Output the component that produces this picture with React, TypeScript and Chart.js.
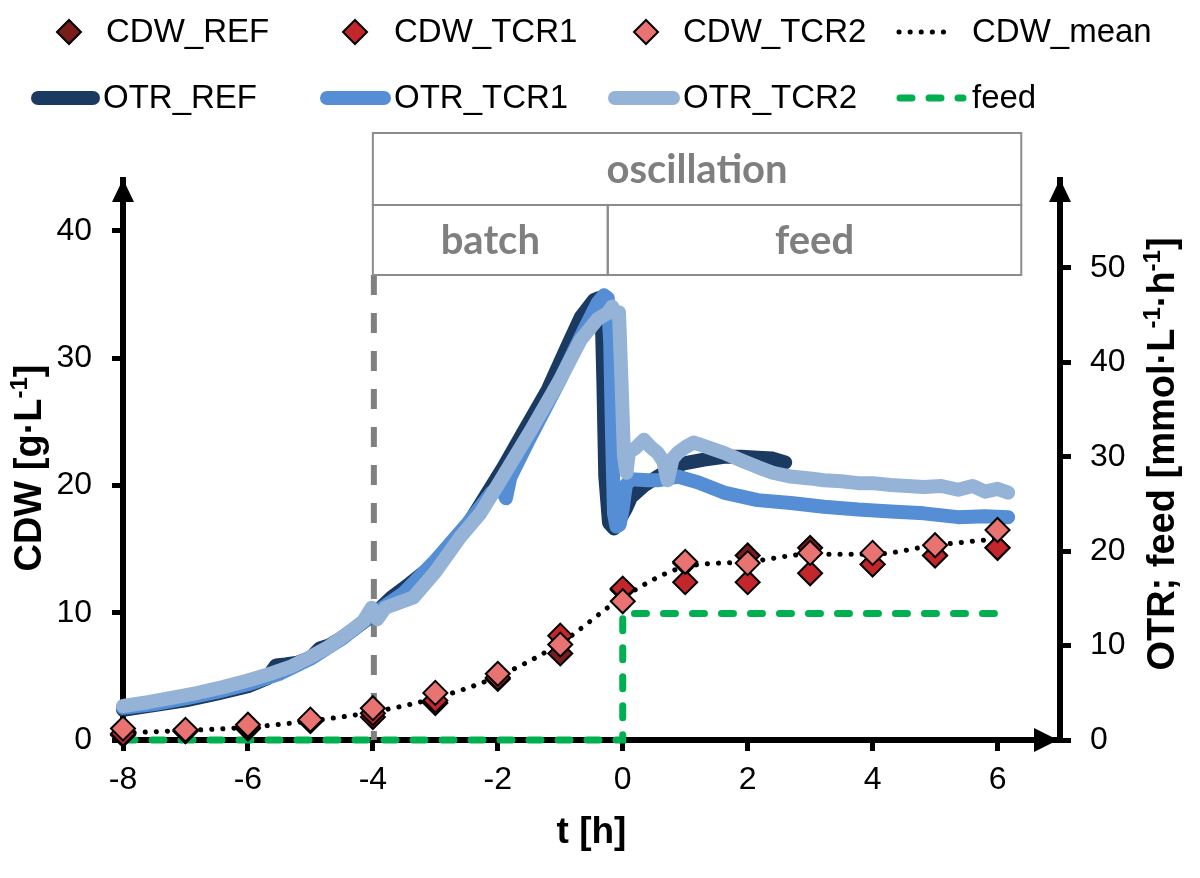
import { useEffect, useRef } from 'react';
import { Chart, registerables } from 'chart.js';

Chart.register(...registerables);

// ---------------- data ----------------
const cdwTimes = [-8, -7, -6, -5, -4, -3, -2, -1, 0, 1, 2, 3, 4, 5, 6];
const cdwRef = [0.4, 0.7, 0.9, 1.5, 1.8, 2.9, 4.8, 6.8, 11.8, 13.9, 14.5, 15.1, 13.8, 14.5, 15.1];
const cdwTcr1 = [0.5, 0.7, 1.0, 1.5, 2.1, 3.1, 4.9, 8.2, 11.9, 12.4, 12.4, 13.1, 13.8, 14.5, 15.1];
const cdwTcr2 = [0.9, 0.8, 1.2, 1.6, 2.5, 3.7, 5.2, 7.5, 10.9, 14.0, 13.9, 14.7, 14.7, 15.3, 16.5];
const cdwMean = [0.55, 0.75, 1.0, 1.5, 2.2, 3.3, 5.0, 7.6, 11.2, 13.6, 14.0, 14.6, 14.6, 15.3, 15.8];

const otrRefT = [-8.0, -7.5, -7.0, -6.5, -6.0, -5.7, -5.55, -5.4, -5.2, -5.0, -4.85, -4.7, -4.5, -4.25, -4.0, -3.7, -3.4, -3.1, -2.8, -2.5, -2.2, -1.9, -1.6, -1.2, -0.9, -0.67, -0.46, -0.38, -0.34, -0.31, -0.28, -0.22, -0.14, -0.06, 0.05, 0.13, 0.35, 0.56, 0.8, 0.98, 1.3, 1.62, 1.9, 2.16, 2.4, 2.6];
const otrRefV = [3.2, 3.7, 4.2, 4.9, 5.7, 6.5, 7.9, 8.0, 8.2, 8.7, 9.7, 10.0, 10.8, 12.0, 13.2, 15.1, 16.6, 18.2, 19.8, 22.6, 25.8, 29.0, 32.5, 37.1, 41.5, 44.8, 46.6, 46.8, 46.0, 38.0, 28.0, 23.0, 22.4, 23.2, 24.5, 25.7, 27.0, 27.9, 28.8, 29.3, 29.7, 30.0, 30.0, 29.9, 29.8, 29.4];

const otrTcr1T = [-8.0, -7.5, -7.0, -6.5, -6.0, -5.5, -5.0, -4.5, -4.0, -3.5, -3.0, -2.5, -2.1, -1.95, -1.87, -1.8, -1.5, -1.0, -0.6, -0.4, -0.3, -0.24, -0.2, -0.17, -0.14, -0.1, -0.05, 0.0, 0.05, 0.13, 0.4, 0.56, 0.88, 1.2, 1.62, 2.16, 2.69, 3.22, 3.77, 4.29, 4.82, 5.37, 5.8, 6.17];
const otrTcr1V = [3.4, 3.8, 4.4, 5.1, 5.9, 7.0, 8.6, 10.7, 13.3, 15.6, 19.0, 22.8, 26.2, 26.8, 25.6, 27.8, 31.8, 38.2, 43.7, 46.3, 47.1, 46.8, 42.0, 32.0, 24.0, 22.6, 22.8, 24.5, 27.0, 27.6, 27.5, 27.5, 27.9, 27.3, 26.2, 25.4, 25.1, 24.7, 24.4, 24.2, 24.0, 23.6, 23.7, 23.6];

const otrTcr2T = [-8.0, -7.6, -7.2, -6.8, -6.4, -6.0, -5.6, -5.3, -5.0, -4.7, -4.4, -4.15, -4.02, -3.93, -3.8, -3.35, -3.0, -2.6, -2.28, -2.0, -1.47, -1.0, -0.67, -0.4, -0.24, -0.17, -0.12, -0.06, -0.02, 0.02, 0.06, 0.1, 0.2, 0.34, 0.45, 0.56, 0.65, 0.72, 0.8, 0.88, 1.0, 1.14, 1.4, 1.62, 1.9, 2.16, 2.4, 2.69, 3.0, 3.22, 3.5, 3.77, 4.0, 4.29, 4.55, 4.82, 5.1, 5.37, 5.6, 5.8, 6.0, 6.17];
const otrTcr2V = [3.6, 4.0, 4.5, 5.0, 5.6, 6.3, 7.1, 7.8, 8.8, 9.9, 11.3, 12.6, 14.0, 12.8, 14.0, 15.1, 17.8, 21.5, 24.0, 27.0, 32.8, 38.2, 42.4, 44.6, 45.2, 45.9, 45.2, 45.3, 38.0, 30.0, 28.3, 30.5, 30.9, 31.8, 31.0, 30.4, 29.5, 27.5, 29.8, 30.4, 31.0, 31.5, 30.9, 30.4, 29.6, 28.9, 28.3, 27.9, 27.7, 27.5, 27.4, 27.2, 27.2, 27.0, 26.9, 26.8, 26.9, 26.5, 26.9, 26.3, 26.6, 26.2];

const feedT = [-8, 0, 0, 5.95];
const feedV = [0, 0, 13.4, 13.4];

const xRange = [-8, 7];
const cdwRange = [0, 44];
const otrRange = [0, 59.3];
const tickStepX = 2;
const tickStepY = 10;

// phase boxes (time boundaries)
const phaseOscStart = -4;
const phaseBatchEnd = -0.24;
const phaseOscEnd = 6.38;

// ---------------- style ----------------
const FONT = "'Liberation Sans', Arial, sans-serif";
const BOXFONT = "Lato, 'Open Sans', sans-serif";
const C = {
  cdwRef: '#7A1B1C',
  cdwTcr1: '#C3262B',
  cdwTcr2: '#E97371',
  otrRef: '#1B3A62',
  otrTcr1: '#558ED5',
  otrTcr2: '#95B3D7',
  feed: '#00B050',
  grey: '#808080',
};

const pts = (t: number[], v: number[]) => t.map((x, i) => ({ x, y: v[i] }));

type Part = { t: string; sup?: boolean };

function drawRich(ctx: CanvasRenderingContext2D, parts: Part[], cx: number, cy: number, size: number, rot: number) {
  const big = `bold ${size}px ${FONT}`;
  const small = `bold ${Math.round(size * 0.62)}px ${FONT}`;
  let total = 0;
  const widths = parts.map((p) => {
    ctx.font = p.sup ? small : big;
    const w = ctx.measureText(p.t).width;
    total += w;
    return w;
  });
  ctx.save();
  ctx.translate(cx, cy);
  ctx.rotate(rot);
  ctx.fillStyle = '#000';
  ctx.textBaseline = 'alphabetic';
  ctx.textAlign = 'left';
  let x = -total / 2;
  const base = size * 0.36;
  parts.forEach((p, i) => {
    ctx.font = p.sup ? small : big;
    ctx.fillText(p.t, x, p.sup ? base - size * 0.36 : base);
    x += widths[i];
  });
  ctx.restore();
}

function diamond(ctx: CanvasRenderingContext2D, x: number, y: number, r: number, fill: string) {
  ctx.beginPath();
  ctx.moveTo(x - r, y);
  ctx.lineTo(x, y - r);
  ctx.lineTo(x + r, y);
  ctx.lineTo(x, y + r);
  ctx.closePath();
  ctx.fillStyle = fill;
  ctx.fill();
  ctx.lineWidth = 2;
  ctx.strokeStyle = '#000';
  ctx.stroke();
}

const legendItems = [
  { label: 'CDW_REF', kind: 'marker', x0: 69, x1: 69, tx: 106, y: 32 },
  { label: 'CDW_TCR1', kind: 'marker', x0: 355, x1: 355, tx: 394, y: 32 },
  { label: 'CDW_TCR2', kind: 'marker', x0: 646, x1: 646, tx: 683, y: 32 },
  { label: 'CDW_mean', kind: 'line', x0: 899, x1: 947, tx: 972, y: 32 },
  { label: 'OTR_REF', kind: 'line', x0: 38, x1: 93, tx: 103, y: 98 },
  { label: 'OTR_TCR1', kind: 'line', x0: 327, x1: 384, tx: 394, y: 98 },
  { label: 'OTR_TCR2', kind: 'line', x0: 615, x1: 673, tx: 683, y: 98 },
  { label: 'feed', kind: 'line', x0: 900, x1: 963, tx: 972, y: 98 },
];

const decorPlugin = {
  id: 'decor',
  beforeDatasetsDraw(chart: any) {
    const { ctx, chartArea } = chart;
    const x = chart.scales.x;
    const px = x.getPixelForValue(phaseOscStart);
    ctx.save();
    ctx.strokeStyle = C.grey;
    ctx.lineWidth = 6;
    ctx.setLineDash([20, 18]);
    ctx.beginPath();
    ctx.moveTo(px + 1, 275);
    ctx.lineTo(px + 1, chartArea.bottom);
    ctx.stroke();
    ctx.restore();
  },
  afterDraw(chart: any) {
    const { ctx, chartArea } = chart;
    const x = chart.scales.x;
    ctx.save();
    // phase boxes
    const xa = x.getPixelForValue(phaseOscStart);
    const xb = x.getPixelForValue(phaseBatchEnd);
    const xc = x.getPixelForValue(phaseOscEnd);
    ctx.strokeStyle = '#8C8C8C';
    ctx.lineWidth = 2;
    ctx.fillStyle = '#fff';
    ctx.fillRect(xa, 133, xc - xa, 142);
    ctx.strokeRect(xa, 133, xc - xa, 72);
    ctx.strokeRect(xa, 205, xb - xa, 70);
    ctx.strokeRect(xb, 205, xc - xb, 70);
    ctx.fillStyle = '#7F7F7F';
    ctx.font = `bold 40px ${BOXFONT}`;
    ctx.textAlign = 'center';
    ctx.textBaseline = 'middle';
    ctx.fillText('oscillation', (xa + xc) / 2, 170);
    ctx.fillText('batch', (xa + xb) / 2, 241);
    ctx.fillText('feed', (xb + xc) / 2, 241);

    // arrows
    ctx.fillStyle = '#000';
    const L = chartArea.left, R = chartArea.right, T = chartArea.top, B = chartArea.bottom;
    const up = (ax: number) => {
      ctx.beginPath();
      ctx.moveTo(ax, T - 1);
      ctx.lineTo(ax - 11, T + 22);
      ctx.lineTo(ax + 11, T + 22);
      ctx.closePath();
      ctx.fill();
    };
    up(L);
    up(R);
    ctx.beginPath();
    ctx.moveTo(R - 2, B);
    ctx.lineTo(R - 26, B - 12);
    ctx.lineTo(R - 26, B + 12);
    ctx.closePath();
    ctx.fill();

    // axis titles
    drawRich(ctx, [{ t: 'CDW [g·L' }, { t: '-1', sup: true }, { t: ']' }], 27, 468, 38, -Math.PI / 2);
    drawRich(
      ctx,
      [{ t: 'OTR; feed [mmol·L' }, { t: '-1', sup: true }, { t: '·h' }, { t: '-1', sup: true }, { t: ']' }],
      1160,
      454,
      38,
      -Math.PI / 2
    );

    // legend
    const ds = chart.data.datasets;
    legendItems.forEach((it) => {
      const d = ds.find((q: any) => q.label === it.label);
      if (!d) return;
      if (it.kind === 'marker') {
        diamond(ctx, it.x0, it.y, 12, d.pointBackgroundColor);
      } else {
        ctx.save();
        ctx.strokeStyle = d.borderColor;
        ctx.lineWidth = d.borderWidth;
        ctx.lineCap = 'round';
        ctx.setLineDash(d.borderDash || []);
        ctx.beginPath();
        ctx.moveTo(it.x0, it.y);
        ctx.lineTo(it.x1, it.y);
        ctx.stroke();
        ctx.restore();
      }
      ctx.fillStyle = '#000';
      ctx.font = `33px ${FONT}`;
      ctx.textAlign = 'left';
      ctx.textBaseline = 'middle';
      ctx.fillText(it.label, it.tx, it.y + 1);
    });
    ctx.restore();
  },
};

export default function App() {
  const ref = useRef<HTMLCanvasElement | null>(null);
  useEffect(() => {
    if (!ref.current) return;
    const tickFont = { family: FONT, size: 32 };
    const axisCommon = {
      grid: { drawOnChartArea: false, drawTicks: true, tickLength: 11, lineWidth: 5, color: '#000' },
      border: { display: true, width: 6, color: '#000' },
    };
    const marker = (label: string, values: number[], color: string, order: number) => ({
      label, data: pts(cdwTimes, values), yAxisID: 'y', showLine: false,
      pointStyle: 'rectRot', pointRadius: 12, pointBackgroundColor: color,
      pointBorderColor: '#000', pointBorderWidth: 2, order, clip: false,
    });
    const otr = (label: string, t: number[], v: number[], color: string, order: number) => ({
      label, data: pts(t, v), yAxisID: 'y1', borderColor: color,
      borderWidth: 14, borderCapStyle: 'round', borderJoinStyle: 'round', pointRadius: 0,
      order, clip: false,
    });
    const chart = new Chart(ref.current, {
      type: 'line',
      data: {
        datasets: [
          marker('CDW_REF', cdwRef, C.cdwRef, 2),
          marker('CDW_TCR1', cdwTcr1, C.cdwTcr1, 1),
          marker('CDW_TCR2', cdwTcr2, C.cdwTcr2, 0),
          {
            label: 'CDW_mean', data: pts(cdwTimes, cdwMean), yAxisID: 'y', borderColor: '#000',
            borderWidth: 5, borderDash: [0.1, 11], borderCapStyle: 'round', pointRadius: 0,
            cubicInterpolationMode: 'monotone', order: 3, clip: false,
          },
          otr('OTR_REF', otrRefT, otrRefV, C.otrRef, 7),
          otr('OTR_TCR1', otrTcr1T, otrTcr1V, C.otrTcr1, 6),
          otr('OTR_TCR2', otrTcr2T, otrTcr2V, C.otrTcr2, 5),
          {
            label: 'feed', data: pts(feedT, feedV), yAxisID: 'y1', borderColor: C.feed,
            borderWidth: 7, borderDash: [12, 17], borderCapStyle: 'round', pointRadius: 0,
            order: 4, clip: false,
          },
        ],
      } as any,
      options: {
        responsive: false,
        animation: false,
        devicePixelRatio: 1,
        layout: { padding: { top: 180, left: 0, right: 0, bottom: 0 } },
        plugins: { legend: { display: false }, tooltip: { enabled: false }, title: { display: false } },
        scales: {
          x: {
            type: 'linear', min: xRange[0], max: xRange[1],
            ticks: { stepSize: tickStepX, includeBounds: false, font: tickFont, color: '#000', padding: 10, maxRotation: 0 },
            ...axisCommon,
            title: { display: true, text: 't [h]', color: '#000', font: { family: FONT, size: 37, weight: 'bold' }, padding: { top: 0, bottom: 23 } },
            afterFit: (s: any) => { s.height = 138; },
          },
          y: {
            type: 'linear', position: 'left', min: cdwRange[0], max: cdwRange[1],
            ticks: { stepSize: tickStepY, includeBounds: false, font: tickFont, color: '#000', padding: 20 },
            ...axisCommon,
            afterFit: (s: any) => { s.width = 123; },
          },
          y1: {
            type: 'linear', position: 'right', min: otrRange[0], max: otrRange[1],
            ticks: { stepSize: tickStepY, includeBounds: false, font: tickFont, color: '#000', padding: 19 },
            ...axisCommon,
            afterFit: (s: any) => { s.width = 140; },
          },
        },
      } as any,
      plugins: [decorPlugin],
    });
    return () => chart.destroy();
  }, []);
  return (
    <div style={{ position: 'absolute', left: 0, top: 0, width: 1200, height: 878, background: '#fff' }}>
      <canvas ref={ref} width={1200} height={878} style={{ width: 1200, height: 878 }} />
    </div>
  );
}
